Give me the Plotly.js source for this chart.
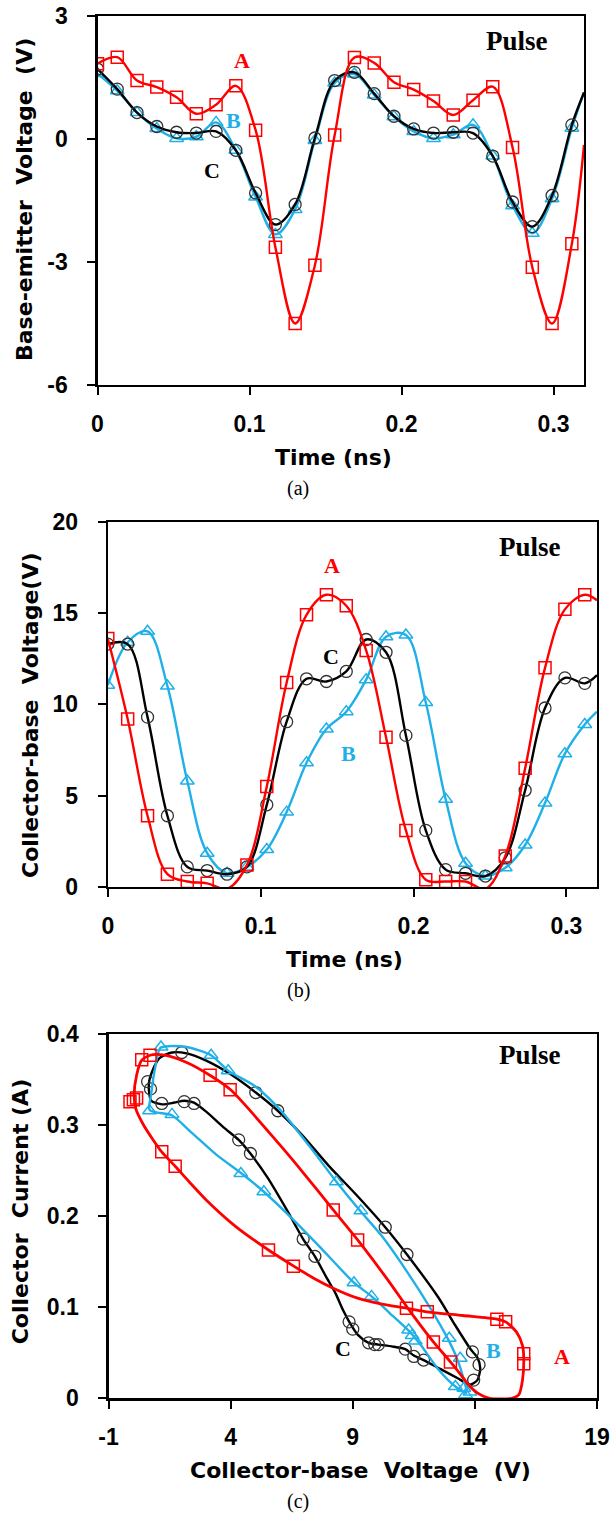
<!DOCTYPE html>
<html><head><meta charset="utf-8">
<script src="https://cdn.plot.ly/plotly-3.0.1.min.js"></script>
<style>html,body{margin:0;padding:0;background:#fff;}</style>
</head><body>
<div id="chart" style="width:613px;height:1515px;"></div>
<script>
// ---------- shared time base (ns) ----------
const time = [0, 0.013, 0.026, 0.039, 0.052, 0.065, 0.078, 0.091, 0.104, 0.117, 0.130, 0.143, 0.156,
              0.169, 0.182, 0.195, 0.208, 0.221, 0.234, 0.247, 0.260, 0.273, 0.286, 0.299, 0.312];
const edgeTime = 0.32;

// ---------- (a) base-emitter voltage (V) ----------
const vbeA = [1.83, 1.99, 1.42, 1.26, 1.01, 0.61, 0.83, 1.29, 0.21, -2.64, -4.50, -3.08, 0.09,
              1.98, 1.85, 1.38, 1.20, 0.92, 0.58, 0.94, 1.27, -0.21, -3.13, -4.50, -2.56];
const vbeAEdge = -0.15;
const vbeB = [1.59, 1.17, 0.64, 0.25, 0.01, 0.05, 0.40, -0.28, -1.42, -2.33, -1.72, -0.04, 1.36,
              1.58, 1.07, 0.54, 0.18, 0.01, 0.10, 0.34, -0.42, -1.63, -2.30, -1.46, 0.26];
const vbeBEdge = 1.13;
const vbeC = [1.70, 1.21, 0.64, 0.30, 0.16, 0.14, 0.18, -0.28, -1.32, -2.09, -1.60, 0.02, 1.42,
              1.62, 1.10, 0.55, 0.24, 0.14, 0.16, 0.14, -0.42, -1.54, -2.14, -1.38, 0.34];
const vbeCEdge = 1.13;

// ---------- (b) collector-base voltage (V) ----------
const vcbA = [13.6, 9.2, 3.9, 0.7, 0.3, 0.2, -0.1, 1.2, 5.5, 11.2, 14.9, 16.0, 15.4,
              12.95, 8.2, 3.1, 0.4, 0.3, 0.3, -0.1, 1.7, 6.5, 12.0, 15.2, 16.0];
const vcbAEdge = 15.7;
const vcbB = [11.05, 13.4, 14.0, 11.0, 5.8, 1.85, 0.75, 1.1, 2.05, 4.1, 6.8, 8.65, 9.6,
              11.35, 13.7, 13.8, 10.1, 4.8, 1.3, 0.6, 1.05, 2.3, 4.6, 7.3, 8.9];
const vcbBEdge = 9.6;
const vcbC = [13.3, 13.3, 9.3, 3.9, 1.1, 0.9, 0.7, 1.1, 4.5, 9.05, 11.4, 11.25, 11.8,
              13.55, 12.85, 8.3, 3.1, 0.95, 0.75, 0.6, 1.6, 5.3, 9.8, 11.45, 11.15];
const vcbCEdge = 11.6;

// ---------- (c) load lines: collector-base voltage (V) vs collector current (A) ----------
const loopVA = [13.45, 13.0, 12.3, 11.5, 10.3, 9.2, 8.2, 7.0, 6.0, 4.0, 3.15, 2.2, 1.3, 0.7, 0.35, 0.15,
                0.05, 0.12, 0.4, 0.85, 1.17, 1.73, 2.3, 3.0, 4.2, 5.55, 6.6, 7.4, 8.2, 9.2, 10.1, 11.2,
                12.05, 13.5, 14.9, 15.26, 15.7, 15.95, 16.0, 15.95, 15.8, 15.5, 14.6, 14.1, 13.7, 13.45];
const loopIA = [0.025, 0.040, 0.062, 0.090, 0.135, 0.174, 0.207, 0.247, 0.279, 0.339, 0.355, 0.369, 0.377,
                0.377, 0.371, 0.355, 0.333, 0.318, 0.302, 0.283, 0.271, 0.255, 0.238, 0.218, 0.189, 0.163,
                0.145, 0.132, 0.121, 0.110, 0.104, 0.099, 0.095, 0.091, 0.087, 0.084, 0.073, 0.058, 0.045,
                0.020, 0.004, 0.0, 0.0, 0.006, 0.016, 0.025];
const markVA = [16.0, 16.0, 15.26, 14.9, 13.0, 12.3, 12.05, 11.2, 9.2, 8.2, 6.57, 5.55, 3.98, 3.16,
                1.73, 1.18, 0.70, 0.36, 0.15, 0.02, -0.12];
const markIA = [0.038, 0.049, 0.084, 0.087, 0.040, 0.062, 0.095, 0.099, 0.174, 0.207, 0.145, 0.163,
                0.339, 0.355, 0.255, 0.271, 0.377, 0.372, 0.330, 0.328, 0.326];

const loopVB = [13.65, 13.5, 13.25, 12.9, 12.2, 11.2, 10.2, 9.3, 8.33, 7.2, 6.03, 5.0, 3.9, 3.2, 2.2, 1.5,
                1.12, 0.9, 0.75, 0.68, 1.0, 1.59, 2.4, 3.4, 4.45, 5.36, 6.5, 7.7, 9.05, 9.77, 10.5, 11.3,
                11.8, 12.5, 13.2, 13.65];
const loopIB = [0.006, 0.025, 0.045, 0.065, 0.098, 0.140, 0.178, 0.206, 0.238, 0.278, 0.317, 0.343, 0.360,
                0.377, 0.386, 0.387, 0.385, 0.362, 0.335, 0.317, 0.314, 0.311, 0.292, 0.268, 0.247, 0.227,
                0.198, 0.165, 0.127, 0.112, 0.094, 0.074, 0.058, 0.032, 0.013, 0.006];
const markVB = [1.15, 3.2, 3.9, 8.33, 9.33, 0.68, 1.6, 4.42, 5.36, 9.05, 9.77, 11.29, 11.43, 11.56,
                12.95, 13.4, 13.2, 13.55, 13.8, 13.62];
const markIB = [0.386, 0.377, 0.360, 0.238, 0.206, 0.316, 0.312, 0.247, 0.227, 0.127, 0.112, 0.075,
                0.069, 0.063, 0.066, 0.044, 0.013, 0.011, 0.007, 0.004];

const loopVC = [0.75, 1.2, 1.7, 2.1, 2.5, 3.0, 3.7, 4.33, 4.81, 5.5, 6.3, 6.97, 7.45, 7.9, 8.3, 8.6, 8.88,
                9.2, 9.65, 10.05, 10.6, 11.15, 11.5, 11.9, 12.6, 13.3, 13.8, 14.1, 14.22, 14.1, 13.85, 13.2,
                12.5, 11.22, 10.33, 9.2, 8.0, 6.9, 5.93, 5.03, 4.0, 3.0, 2.2, 1.6, 1.1, 0.8, 0.65, 0.75];
const loopIC = [0.327, 0.323, 0.325, 0.327, 0.325, 0.315, 0.298, 0.284, 0.269, 0.243, 0.207, 0.175, 0.156,
                0.134, 0.115, 0.097, 0.083, 0.070, 0.061, 0.059, 0.057, 0.054, 0.047, 0.042, 0.032, 0.022,
                0.015, 0.020, 0.033, 0.045, 0.053, 0.080, 0.111, 0.158, 0.188, 0.222, 0.256, 0.290, 0.316,
                0.336, 0.356, 0.371, 0.379, 0.380, 0.374, 0.360, 0.345, 0.327];
const markVC = [0.6, 0.72, 1.18, 2.1, 2.5, 2.0, 4.33, 4.81, 6.97, 7.45, 8.85, 9.0, 9.65, 9.9, 10.05,
                11.15, 11.5, 11.9, 13.9, 14.17, 13.95, 11.22, 10.33, 5.93, 5.03];
const markIC = [0.348, 0.340, 0.324, 0.326, 0.324, 0.380, 0.284, 0.269, 0.175, 0.156, 0.084, 0.076,
                0.061, 0.059, 0.059, 0.054, 0.046, 0.042, 0.051, 0.037, 0.020, 0.158, 0.188, 0.316, 0.336];

// ---------- tick labels ----------
const timeTicks = [0, 0.1, 0.2, 0.3];
const timeTickText = ['0', '0.1', '0.2', '0.3'];
const vbeTicks = [-6, -3, 0, 3];
const vbeTickText = ['-6', '-3', '0', '3'];
const vcbTicks = [0, 5, 10, 15, 20];
const vcbTickText = ['0', '5', '10', '15', '20'];
const vLoopTicks = [-1, 4, 9, 14, 19];
const vLoopTickText = ['-1', '4', '9', '14', '19'];
const iTicks = [0, 0.1, 0.2, 0.3, 0.4];
const iTickText = ['0', '0.1', '0.2', '0.3', '0.4'];

// ---------- styles ----------
const RED = '#ff0000', BLUE = '#1fb0e8', BLACK = '#000000', CIRC = '#333333';
const W = 613, H = 1515;
const styleA = {color: RED, symbol: 'square-open', size: 12, mlw: 1.5, lw: 2.4};
const styleB = {color: BLUE, symbol: 'triangle-up-open', size: 12, mlw: 1.5, lw: 2.4};
const styleC = {color: BLACK, mcolor: CIRC, symbol: 'circle-open', size: 12, mlw: 1.3, lw: 2.4};

function hideOutside(vals, lo, hi) { return vals.map(v => (v < lo || v > hi) ? null : v); }

function series(xl, yl, xm, ym, st, xa, ya, smoothing) {
  return [
    {x: xl, y: yl, xaxis: xa, yaxis: ya, mode: 'lines', type: 'scatter', hoverinfo: 'skip',
     line: {color: st.color, width: st.lw, shape: 'spline', smoothing: smoothing}},
    {x: xm, y: ym, xaxis: xa, yaxis: ya, mode: 'markers', type: 'scatter', hoverinfo: 'skip',
     marker: {symbol: st.symbol, size: st.size, color: st.mcolor || st.color,
              line: {color: st.mcolor || st.color, width: st.mlw}}}
  ];
}

const tl = time.concat([edgeTime]);
let data = [];
// (a): blue below black
data = data.concat(series(tl, vbeB.concat([vbeBEdge]), time, vbeB, styleB, 'x', 'y', 1));
data = data.concat(series(tl, vbeC.concat([vbeCEdge]), time, vbeC, styleC, 'x', 'y', 1));
data = data.concat(series(tl, vbeA.concat([vbeAEdge]), time, vbeA, styleA, 'x', 'y', 1));
// (b)
data = data.concat(series(tl, vcbB.concat([vcbBEdge]), time, hideOutside(vcbB, 0, 20), styleB, 'x2', 'y2', 1));
data = data.concat(series(tl, vcbC.concat([vcbCEdge]), time, hideOutside(vcbC, 0, 20), styleC, 'x2', 'y2', 1));
data = data.concat(series(tl, vcbA.concat([vcbAEdge]), time, hideOutside(vcbA, 0, 20), styleA, 'x2', 'y2', 1));
// (c)
const styleA3 = Object.assign({}, styleA, {lw: 2.8});
data = data.concat(series(loopVC, loopIC, markVC, markIC, styleC, 'x3', 'y3', 0.7));
data = data.concat(series(loopVB, loopIB, markVB, markIB, styleB, 'x3', 'y3', 0.7));
data = data.concat(series(loopVA, loopIA, markVA, markIA, styleA3, 'x3', 'y3', 0.7));

const tickFont = {family: 'Liberation Sans, Arial, sans-serif', size: 23, color: '#000', weight: 'bold'};
function xAxis(left, right, range, vals, text, anchor) {
  return {domain: [left / W, right / W], range: range, tickmode: 'array', tickvals: vals, ticktext: text,
          anchor: anchor, showgrid: false, zeroline: false, showline: true, linecolor: '#000', linewidth: 2.2,
          mirror: true, ticks: 'outside', ticklen: 8, tickwidth: 2, tickcolor: '#000', tickfont: tickFont,
          ticklabelstandoff: 9, fixedrange: true};
}
function yAxis(top, bottom, range, vals, text, anchor) {
  return {domain: [1 - bottom / H, 1 - top / H], range: range, tickmode: 'array', tickvals: vals, ticktext: text,
          anchor: anchor, showgrid: false, zeroline: false, showline: true, linecolor: '#000', linewidth: 2.2,
          mirror: true, ticks: 'outside', ticklen: 8, tickwidth: 2, tickcolor: '#000', tickfont: tickFont,
          ticklabelstandoff: 15, fixedrange: true};
}

const serifBold = (size, color) => ({family: 'Liberation Serif, Times New Roman, serif', size: size, color: color, weight: 'bold'});
const titleFont = {family: 'DejaVu Sans, sans-serif', size: 22, color: '#000', weight: 'bold'};
const capFont = {family: 'Liberation Serif, Times New Roman, serif', size: 20, color: '#000'};

function lab(text, x, y, xr, yr, font) {
  return {text: text, x: x, y: y, xref: xr, yref: yr, showarrow: false, xanchor: 'center', yanchor: 'middle', font: font};
}
function paperText(text, px, py, font, angle) {
  return {text: text, x: px / W, y: 1 - py / H, xref: 'paper', yref: 'paper', showarrow: false,
          xanchor: 'center', yanchor: 'middle', font: font, textangle: angle || 0};
}

const annotations = [
  // (a)
  lab('Pulse', 0.2762, 2.39, 'x', 'y', serifBold(27, '#000')),
  lab('A', 0.0949, 1.905, 'x', 'y', serifBold(22, RED)),
  lab('B', 0.0894, 0.445, 'x', 'y', serifBold(22, BLUE)),
  lab('C', 0.0751, -0.77, 'x', 'y', serifBold(22, '#000')),
  // (b)
  lab('Pulse', 0.276, 18.6, 'x2', 'y2', serifBold(27, '#000')),
  lab('A', 0.1467, 17.6, 'x2', 'y2', serifBold(22, RED)),
  lab('C', 0.1462, 12.6, 'x2', 'y2', serifBold(22, '#000')),
  lab('B', 0.1577, 7.3, 'x2', 'y2', serifBold(22, BLUE)),
  // (c)
  lab('Pulse', 16.26, 0.377, 'x3', 'y3', serifBold(27, '#000')),
  lab('A', 17.57, 0.0457, 'x3', 'y3', serifBold(22, RED)),
  lab('B', 14.77, 0.053, 'x3', 'y3', serifBold(22, BLUE)),
  lab('C', 8.62, 0.055, 'x3', 'y3', serifBold(22, '#000')),
  // axis titles
  paperText('Base-emitter\u00A0 Voltage\u00A0 (V)', 24, 200, titleFont, -90),
  paperText('Time (ns)', 333.5, 457.4, titleFont),
  paperText('Collector-base\u00A0 Voltage(V)', 30, 715, titleFont, -90),
  paperText('Time (ns)', 344, 959.4, titleFont),
  paperText('Collector\u00A0 Current (A)', 20.3, 1211, titleFont, -90),
  paperText('Collector-base\u00A0 Voltage\u00A0 (V)', 360, 1470, titleFont),
  // captions
  paperText('(a)', 298, 488, capFont),
  paperText('(b)', 298, 990, capFont),
  paperText('(c)', 298, 1501, capFont)
];

const layout = {
  width: W, height: H, margin: {l: 0, r: 0, t: 0, b: 0}, showlegend: false,
  paper_bgcolor: '#fff', plot_bgcolor: '#fff',
  xaxis: xAxis(97.5, 584, [0, 0.32], timeTicks, timeTickText, 'y'),
  yaxis: yAxis(15.7, 385, [-6, 3], vbeTicks, vbeTickText, 'x'),
  xaxis2: xAxis(107.8, 597, [0, 0.32], timeTicks, timeTickText, 'y2'),
  yaxis2: yAxis(521.7, 887, [0, 20], vcbTicks, vcbTickText, 'x2'),
  xaxis3: xAxis(108.5, 597, [-1, 19], vLoopTicks, vLoopTickText, 'y3'),
  yaxis3: yAxis(1034.3, 1398.3, [0, 0.4], iTicks, iTickText, 'x3'),
  annotations: annotations
};

Plotly.newPlot('chart', data, layout, {staticPlot: true, displayModeBar: false});
</script>
</body></html>
